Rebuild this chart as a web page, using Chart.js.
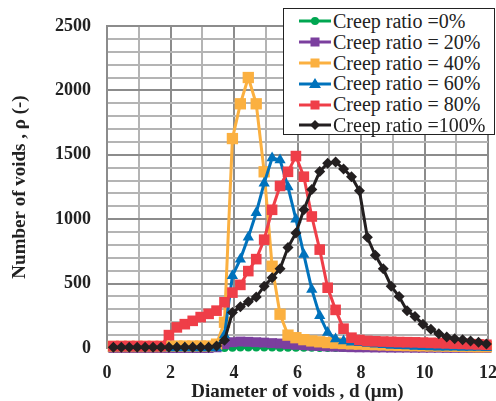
<!DOCTYPE html>
<html>
<head>
<meta charset="utf-8">
<script src="https://cdn.jsdelivr.net/npm/chart.js@4.4.1/dist/chart.umd.min.js"></script>
<style>
  html, body { margin: 0; padding: 0; background: #fff; }
  #wrap { position: relative; width: 496px; height: 401px; }
  #legend {
    position: absolute; left: 283px; top: 8px; width: 212px; height: 127px;
    box-sizing: border-box; border: 1.5px solid #222; background: #fff;
    font-family: "Liberation Serif", serif; font-size: 20px; color: #222;
    padding-top: 2px;
  }
  .row { display: flex; align-items: center; height: 20.8px; white-space: nowrap; }
  .row svg { margin-left: 15px; margin-right: 2px; flex: none; }
</style>
</head>
<body>
<div id="wrap">
  <canvas id="chart" width="496" height="401"></canvas>
  <div id="legend"></div>
</div>
<script>
// void diameter bins (µm)
const diameters = [0.2, 0.45, 0.7, 0.95, 1.2, 1.45, 1.7, 1.95, 2.2, 2.45, 2.7, 2.95,
  3.2, 3.45, 3.7, 3.95, 4.2, 4.45, 4.7, 4.95, 5.2, 5.45, 5.7, 5.95,
  6.2, 6.45, 6.7, 6.95, 7.2, 7.45, 7.7, 7.95, 8.2, 8.45, 8.7, 8.95,
  9.2, 9.45, 9.7, 9.95, 10.2, 10.45, 10.7, 10.95, 11.2, 11.45, 11.7, 11.95];

// number of voids per creep ratio
const creep0 = [0, 0, 0, 0, 0, 0, 0, 0, 0, 0, 0, 0,
  0, 0, 0, 2, 3, 4, 4, 3, 3, 2, 2, 2,
  1, 1, 0, 0, 0, 0, 0, 0, 0, 0, 0, 0,
  0, 0, 0, 0, 0, 0, 0, 0, 0, 0, 0, 0];
const creep20 = [0, 0, 0, 0, 0, 0, 0, 0, 0, 0, 0, 0,
  0, 5, 30, 45, 50, 48, 45, 42, 38, 35, 30, 25,
  22, 18, 15, 12, 10, 8, 6, 5, 5, 4, 4, 3,
  3, 3, 2, 2, 2, 2, 1, 1, 1, 1, 1, 1];
const creep40 = [12, 12, 12, 12, 12, 12, 12, 15, 15, 15, 15, 15,
  15, 30, 200, 1626, 1896, 2100, 1896, 1368, 635, 262, 100, 80,
  65, 55, 48, 42, 38, 35, 32, 30, 28, 26, 24, 22,
  20, 19, 18, 17, 16, 15, 14, 13, 12, 11, 10, 10];
const creep60 = [0, 0, 0, 0, 0, 0, 0, 0, 0, 0, 0, 0,
  0, 0, 100, 560, 690, 860, 1050, 1280, 1475, 1460, 1250, 1000,
  725, 455, 250, 120, 70, 55, 45, 40, 35, 30, 25, 20,
  18, 15, 12, 10, 8, 6, 5, 5, 4, 3, 3, 2];
const creep80 = [15, 15, 15, 15, 15, 15, 15, 100, 160, 185, 211, 240,
  265, 290, 355, 430, 490, 597, 690, 841, 1073, 1258, 1368, 1490,
  1330, 1021, 764, 468, 296, 150, 80, 62, 55, 52, 50, 48,
  46, 45, 44, 42, 40, 38, 36, 34, 32, 30, 28, 25];
const creep100 = [5, 5, 5, 5, 5, 5, 5, 5, 5, 5, 5, 5,
  5, 15, 60, 275, 320, 360, 395, 480, 545, 615, 780, 893,
  1073, 1230, 1370, 1435, 1445, 1390, 1330, 1220, 860, 720, 615, 480,
  400, 290, 245, 185, 145, 110, 85, 72, 65, 55, 44, 31];

const seriesLabels = ["Creep ratio =0%", "Creep ratio = 20%", "Creep ratio = 40%",
  "Creep ratio = 60%", "Creep ratio = 80%", "Creep ratio =100%"];
const seriesData = [creep0, creep20, creep40, creep60, creep80, creep100];
const seriesColors = ["#00A651", "#7B3F9E", "#FBB040", "#0072BC", "#EF3E48", "#231F20"];
const seriesMarkers = ["circle", "rect", "rect", "triangle", "rect", "rectRot"];
const markerSizes = [4, 7, 8, 6.5, 7.5, 5.5];

const SERIF = "'Liberation Serif', 'Times New Roman', serif";

const datasets = seriesData.map((vals, i) => ({
  label: seriesLabels[i],
  data: vals.map((v, k) => ({ x: diameters[k], y: v })),
  borderColor: seriesColors[i],
  backgroundColor: seriesColors[i],
  borderWidth: 3,
  pointStyle: seriesMarkers[i],
  pointRadius: markerSizes[i],
  pointBorderWidth: 0,
  tension: 0,
  clip: false,
  order: seriesData.length - 1 - i,   // black drawn on top
}));

new Chart(document.getElementById("chart"), {
  type: "line",
  data: { datasets },
  options: {
    responsive: false,
    animation: false,
    layout: { padding: { top: 26, right: 7, bottom: 0, left: 0 } },
    plugins: { legend: { display: false }, tooltip: { enabled: false } },
    scales: {
      x: {
        type: "linear", min: 0, max: 12,
        afterFit: s => { s.height = 53; s.paddingLeft = 0; s.paddingRight = 0; },
        border: { color: "#8c8c8c", width: 2 },
        grid: {
          drawTicks: false, lineWidth: 2,
          color: c => (c.tick && c.tick.value % 2 === 0 ? "#8c8c8c" : "#b4b4b4"),
        },
        ticks: {
          stepSize: 1, padding: 15, color: "#222", maxRotation: 0, autoSkip: false,
          font: { family: SERIF, size: 18, weight: "bold" },
          callback: v => (v % 2 === 0 ? v : ""),
        },
        title: {
          display: true, text: "Diameter of voids , d (μm)", color: "#222",
          font: { family: SERIF, size: 19, weight: "bold" }, padding: { top: 0, bottom: -2 },
        },
      },
      y: {
        min: 0, max: 2500,
        afterFit: s => { s.width = 107; s.paddingTop = 0; s.paddingBottom = 0; },
        border: { color: "#8c8c8c", width: 2 },
        grid: {
          drawTicks: false, lineWidth: 2,
          color: c => (c.tick && c.tick.value % 500 === 0 ? "#8c8c8c" : "#b4b4b4"),
        },
        ticks: {
          stepSize: 100, padding: 16, color: "#222", autoSkip: false,
          font: { family: SERIF, size: 18, weight: "bold" },
          callback: v => (v % 500 === 0 ? v : ""),
        },
        title: {
          display: true, text: "Number of voids , ρ (-)", color: "#222",
          font: { family: SERIF, size: 19, weight: "bold" }, padding: { top: 9, bottom: 0 },
        },
      },
    },
  },
});

// legend box drawn over the top-right of the plot
function markerSvg(i) {
  const c = seriesColors[i];
  let m = "";
  if (seriesMarkers[i] === "circle") m = `<circle cx="16" cy="7" r="4" fill="${c}"/>`;
  else if (seriesMarkers[i] === "rect") m = `<rect x="11.5" y="2.5" width="9" height="9" fill="${c}"/>`;
  else if (seriesMarkers[i] === "triangle") m = `<polygon points="16,1 22,11 10,11" fill="${c}"/>`;
  else m = `<polygon points="16,2 21,7 16,12 11,7" fill="${c}"/>`;
  return `<svg width="32" height="14"><line x1="0" y1="7" x2="32" y2="7" stroke="${c}" stroke-width="3"/>${m}</svg>`;
}
document.getElementById("legend").innerHTML = seriesLabels.map((l, i) =>
  `<div class="row">${markerSvg(i)}<span>${l}</span></div>`).join("");
</script>
</body>
</html>
